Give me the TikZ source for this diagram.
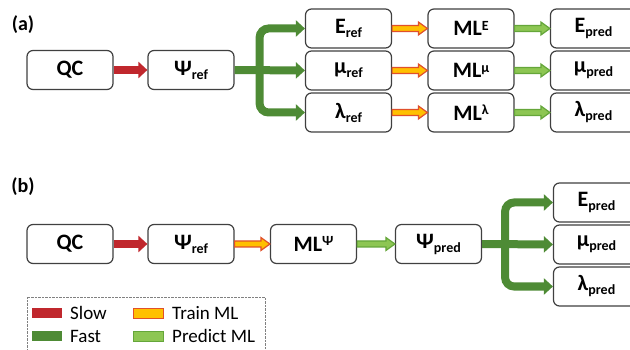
\documentclass[tikz,border=0pt]{standalone}
\usepackage{fontspec}
\setmainfont{Carlito}
\usepackage{tikz}
\usetikzlibrary{calc}
\usetikzlibrary{arrows.meta}
\definecolor{slowred}{HTML}{C0272D}
\definecolor{fastgreen}{HTML}{4E8B35}
\definecolor{trainfill}{HTML}{FFC000}
\definecolor{trainline}{HTML}{E0502B}
\definecolor{predfill}{HTML}{8DC653}
\definecolor{predline}{HTML}{65A63A}
\definecolor{boxline}{HTML}{404040}
\newcommand{\lowtxt}[1]{\raisebox{-4pt}{\fontsize{14}{16}\selectfont #1}}
\newcommand{\hightxt}[1]{\raisebox{5.5pt}{\fontsize{14}{16}\selectfont #1}}
\newcommand{\blockarrow}[3] % style, from node, to node
{
	% shaft and head as one outline
	\draw[#1] ($(#2.east)+(0,-3)$) -- ($(#3.west)+(-9,-3)$) -- ($(#3.west)+(-9,-6.5)$)
		-- (#3.west) -- ($(#3.west)+(-9,6.5)$) -- ($(#3.west)+(-9,3)$) -- ($(#2.east)+(0,3)$) -- cycle;
}
\tikzset{
	box/.style={draw=boxline, line width=1.2pt, rounded corners=6pt, fill=white,
		minimum width=86pt, minimum height=39pt, inner sep=0pt,
		font=\fontsize{22}{26}\selectfont\bfseries},
	slow/.style={slowred, line width=8pt, -{Triangle[length=9pt,width=16pt]}},
	fast/.style={fastgreen, line width=8pt, -{Triangle[length=9pt,width=16pt]}},
	train/.style={draw=trainline, fill=trainfill, line width=1.2pt},
	predict/.style={draw=predline, fill=predfill, line width=1.2pt},
	swatch/.style={minimum width=30pt, minimum height=10pt, inner sep=0pt, line width=1pt},
	keytext/.style={anchor=west, inner sep=0pt, font=\fontsize{19}{22}\selectfont},
	panel/.style={inner sep=0pt, font=\fontsize{20}{24}\selectfont\bfseries}
}
\begin{document}
\begin{tikzpicture}[x=1pt, y=-1pt]
	% 630 x 350 px
	\useasboundingbox (0,0) rectangle (630,350);
	
	% (a) one model per property
	\node[panel] (labela) at (23,25) {(a)};
	\node[box] (qca) at (70,70) {QC};
	\node[box] (psia) at (191,70) {Ψ\lowtxt{ref}};
	\node[box] (eref) at (348.5,28.5) {E\lowtxt{ref}};
	\node[box] (muref) at (348.5,70.5) {μ\lowtxt{ref}};
	\node[box] (lref) at (348.5,112.5) {λ\lowtxt{ref}};
	\node[box] (mle) at (471,28.5) {ML\hightxt{E}};
	\node[box] (mlmu) at (471,70.5) {ML\hightxt{μ}};
	\node[box] (mll) at (471,112.5) {ML\hightxt{λ}};
	\node[box] (epa) at (593.5,28.5) {E\lowtxt{pred}};
	\node[box] (mupa) at (593.5,70.5) {μ\lowtxt{pred}};
	\node[box] (lpa) at (593.5,112.5) {λ\lowtxt{pred}};
	
	\draw[slow] (qca) -- (psia);
	\coordinate (forka) at ($(psia.east)+(25,0)$);
	\draw[fast] (psia.east) -- (muref.west);
	\draw[fast, rounded corners=9pt] (forka) |- (eref.west);
	\draw[fast, rounded corners=9pt] (forka) |- (lref.west);
	
	\blockarrow{train}{eref}{mle};
	\blockarrow{train}{muref}{mlmu};
	\blockarrow{train}{lref}{mll};
	\blockarrow{predict}{mle}{epa};
	\blockarrow{predict}{mlmu}{mupa};
	\blockarrow{predict}{mll}{lpa};
	
	% (b) one model for the wave function
	\node[panel] (labelb) at (23,187) {(b)};
	\node[box] (qcb) at (70,244) {QC};
	\node[box] (psib) at (191,244) {Ψ\lowtxt{ref}};
	\node[box] (mlpsi) at (313.5,244) {ML\hightxt{Ψ}};
	\node[box] (psipred) at (438.5,244) {Ψ\lowtxt{pred}};
	\node[box] (epb) at (596.5,202.5) {E\lowtxt{pred}};
	\node[box] (mupb) at (596.5,244.5) {μ\lowtxt{pred}};
	\node[box] (lpb) at (596.5,286.5) {λ\lowtxt{pred}};
	
	\draw[slow] (qcb) -- (psib);
	\blockarrow{train}{psib}{mlpsi};
	\blockarrow{predict}{mlpsi}{psipred};
	\coordinate (forkb) at ($(psipred.east)+(23,0)$);
	\draw[fast] (psipred.east) -- (mupb.west);
	\draw[fast, rounded corners=9pt] (forkb) |- (epb.west);
	\draw[fast, rounded corners=9pt] (forkb) |- (lpb.west);
	
	% legend
	\draw[gray, densely dotted] (27,297) rectangle (265,362);
	\node[swatch, fill=slowred] (slowkey) at (47,313) {};
	\node[swatch, fill=fastgreen] (fastkey) at (47,336) {};
	\node[swatch, draw=trainline, fill=trainfill] (trainkey) at (148,313) {};
	\node[swatch, draw=predline, fill=predfill] (predkey) at (148,336) {};
	\node[keytext] (slowtext) at (70,313) {Slow};
	\node[keytext] (fasttext) at (70,336) {Fast};
	\node[keytext] (traintext) at (172,313) {Train ML};
	\node[keytext] (predtext) at (172,336) {Predict ML};
\end{tikzpicture}
\end{document}
